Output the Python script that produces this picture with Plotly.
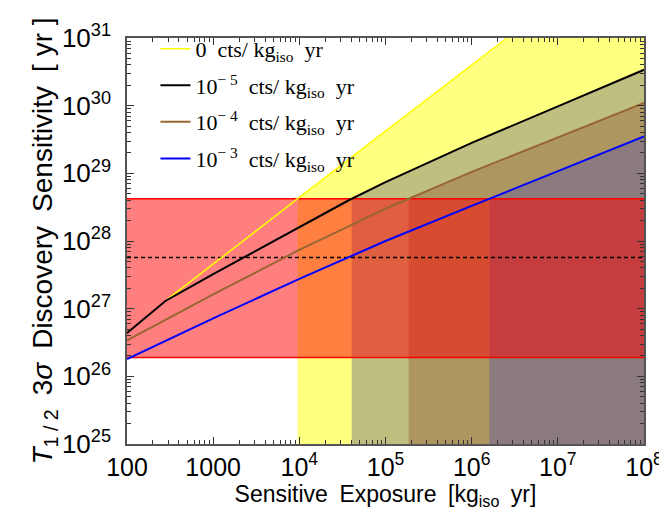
import numpy as np
import plotly.graph_objects as go

# ---------------- data ----------------
exp_zero = [2.79e2, 1e3, 1e4, 1e5, 1e6, 2.57e6]
t_zero = [1.30e27, 4.6e27, 4.4e28, 4.2e29, 4.0e30, 1.0e31]

exp_m5 = [1e2, 2.79e2, 1e3, 1e4, 3.75e4, 1e5, 1e6, 1e7, 1e8]
t_m5 = [4.37e26, 1.30e27, 3.24e27, 1.62e28, 4.0e28, 7.4e28, 2.82e29, 9.77e29, 3.39e30]

exp_m4 = [1e2, 1e3, 1e4, 1e5, 1e6, 1e7, 1e8]
t_m4 = [3.4e26, 1.62e27, 7.4e27, 3.0e28, 1.05e29, 3.4e29, 1.1e30]

exp_m3 = [1e2, 1e3, 1e4, 1e5, 1e6, 1e7, 1e8]
t_m3 = [1.8e26, 7.2e26, 2.75e27, 1.0e28, 3.3e28, 1.07e29, 3.5e29]

band_low = 1.9e26
band_high = 4.2e28
dashed_level = 5.7e27

SP = "\u2002"
legend_names = [
    "0" + SP + "cts/ kg<sub>iso</sub>" + SP + "yr",
    "10<sup>\u2212 5</sup>" + SP + "cts/ kg<sub>iso</sub>" + SP + "yr",
    "10<sup>\u2212 4</sup>" + SP + "cts/ kg<sub>iso</sub>" + SP + "yr",
    "10<sup>\u2212 3</sup>" + SP + "cts/ kg<sub>iso</sub>" + SP + "yr",
]
x_tickvals = [1e2, 1e3, 1e4, 1e5, 1e6, 1e7, 1e8]
x_ticktext = ["100", "1000", "10<sup>4</sup>", "10<sup>5</sup>", "10<sup>6</sup>",
              "10<sup>7</sup>", "10<sup>8</sup>"]
y_tickvals = [1e25, 1e26, 1e27, 1e28, 1e29, 1e30, 1e31]
y_ticktext = ["10<sup>%d</sup>" % p for p in range(25, 32)]

X_RANGE = (2, 8)
Y_RANGE = (25, 31)

line_colors = ["#FFFF00", "#000000", "#996633", "#0000FF"]
fill_colors = ["#FFFF80", "#BFBF80", "#AE9660", "#8B7B7E"]
series = [(exp_zero, t_zero), (exp_m5, t_m5), (exp_m4, t_m4), (exp_m3, t_m3)]

fig = go.Figure()


def fill_polygon(ex, tv):
    lx = np.log10(ex)
    ly = np.log10(tv)
    top = np.log10(band_high)
    # where the curve crosses the top of the red band
    x0 = float(np.interp(top, ly, lx))
    xs = [x0] + [float(v) for v in lx if v > x0]
    ys = [top] + [float(v) for v in ly if v > top]
    if xs[-1] < X_RANGE[1]:
        xs.append(float(X_RANGE[1]))
        ys.append(ys[-1])
    xs += [float(X_RANGE[1]), x0, x0]
    ys += [float(Y_RANGE[0]), float(Y_RANGE[0]), top]
    return [10.0 ** v for v in xs], [10.0 ** v for v in ys]


for (ex, tv), fc in zip(series, fill_colors):
    px, py = fill_polygon(ex, tv)
    fig.add_trace(go.Scatter(x=px, y=py, mode="lines", fill="toself", fillcolor=fc,
                             line=dict(width=0), showlegend=False, hoverinfo="skip"))

# red band
xl, xr = 10.0 ** X_RANGE[0], 10.0 ** X_RANGE[1]
fig.add_trace(go.Scatter(x=[xl, xr, xr, xl, xl],
                         y=[band_low, band_low, band_high, band_high, band_low],
                         mode="lines", fill="toself", fillcolor="rgba(255,0,0,0.5)",
                         line=dict(width=0), showlegend=False, hoverinfo="skip"))
for lv in (band_low, band_high):
    fig.add_trace(go.Scatter(x=[xl, xr], y=[lv, lv], mode="lines",
                             line=dict(color="#FF0000", width=1.5),
                             showlegend=False, hoverinfo="skip"))

# dashed line
fig.add_trace(go.Scatter(x=[xl, xr], y=[dashed_level, dashed_level], mode="lines",
                         line=dict(color="#000000", width=1.5, dash="4px,3px"),
                         showlegend=False, hoverinfo="skip"))

# curves
widths = [1.5, 2, 2, 2]
for i, ((ex, tv), lc, nm, w) in enumerate(zip(series, line_colors, legend_names, widths)):
    fig.add_trace(go.Scatter(x=ex, y=tv, mode="lines", name=nm, legendgroup="g%d" % i,
                             line=dict(color=lc, width=w)))

minor_x = [k * 10.0 ** n for n in range(2, 8) for k in range(2, 10)]
minor_y = [k * 10.0 ** n for n in range(25, 31) for k in range(2, 10)]

axis_common = dict(
    type="log", showgrid=False, zeroline=False, showline=True,
    linecolor="#555555", linewidth=1.5, mirror="allticks",
    ticks="inside", ticklen=7, tickwidth=1.2, tickcolor="#333333",
    ticklabeloverflow="allow",
)

fig.update_xaxes(**axis_common, range=[X_RANGE[0], X_RANGE[1] + 1e-6], tickmode="array",
                 tickvals=x_tickvals, ticktext=x_ticktext,
                 tickfont=dict(family="Liberation Sans, Arial", size=25, color="#000000"),
                 minor=dict(tickmode="array", tickvals=minor_x, ticks="inside",
                            ticklen=4, tickcolor="#333333", showgrid=False),
                 title=dict(text="Sensitive" + SP + "Exposure" + SP + "[kg<sub>iso</sub>" + SP + "yr]",
                            font=dict(family="Liberation Sans, Arial", size=23,
                                      color="#000000"), standoff=6))
fig.update_yaxes(**axis_common, range=[Y_RANGE[0], Y_RANGE[1] + 1e-6], tickmode="array",
                 tickvals=y_tickvals, ticktext=y_ticktext, ticklabelstandoff=9,
                 tickfont=dict(family="Liberation Sans, Arial", size=26, color="#000000"),
                 minor=dict(tickmode="array", tickvals=minor_y, ticks="inside",
                            ticklen=4, tickcolor="#333333", showgrid=False),
                 title=dict(text="<i>T</i><sub>1 / 2</sub>" + SP + "3<i>\u03c3</i>" + SP
                                 + "Discovery" + SP + "Sensitivity" + SP + "[ yr ]"
                                 + SP + SP + SP,
                            font=dict(family="Liberation Sans, Arial", size=28,
                                      color="#000000"), standoff=0))

fig.update_layout(
    width=667, height=525,
    margin=dict(l=119, r=22, t=15, b=89),
    plot_bgcolor="white", paper_bgcolor="white",
    legend=dict(x=0.055, y=1.025, xanchor="left", yanchor="top",
                bgcolor="rgba(0,0,0,0)", borderwidth=0,
                font=dict(family="Liberation Serif, Times New Roman", size=22,
                          color="#000000"),
                tracegroupgap=5, itemwidth=30),
)

fig.write_html("out.html")
